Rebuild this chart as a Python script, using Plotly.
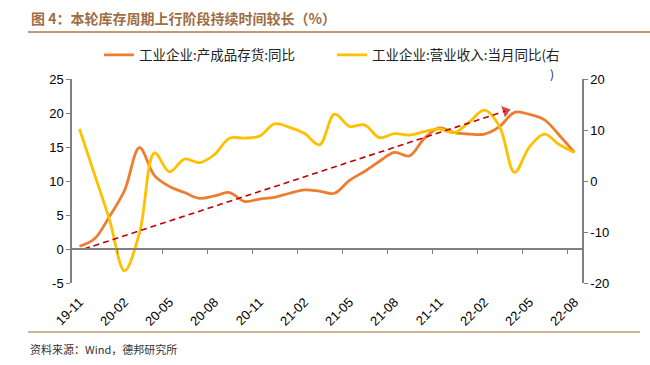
import plotly.graph_objects as go

# ---------------- data ----------------
months = ["19-11", "19-12", "20-01", "20-02", "20-03", "20-04", "20-05", "20-06",
          "20-07", "20-08", "20-09", "20-10", "20-11", "20-12", "21-01", "21-02",
          "21-03", "21-04", "21-05", "21-06", "21-07", "21-08", "21-09", "21-10",
          "21-11", "21-12", "22-01", "22-02", "22-03", "22-04", "22-05", "22-06",
          "22-07", "22-08"]

inventory_yoy = [0.4, 1.5, 4.8, 8.6, 14.9, 10.8, 9.2, 8.3, 7.45, 7.8, 8.3, 7.0,
                 7.35, 7.6, 8.2, 8.7, 8.5, 8.2, 10.1, 11.4, 12.9, 14.2, 13.7, 16.3,
                 17.8, 17.1, 16.9, 16.9, 18.0, 20.1, 19.8, 19.0, 16.7, 14.2]

revenue_yoy = [10.2, 1.3, -7.6, -17.6, -10.2, 5.5, 1.8, 4.3, 3.6, 5.2, 8.4, 8.4,
               8.8, 11.2, 10.5, 9.3, 7.1, 13.1, 10.7, 11.0, 8.5, 9.3, 9.0, 9.7,
               10.2, 9.5, 11.6, 13.9, 10.7, 1.7, 6.7, 9.2, 7.1, 5.6]

tick_idx = list(range(0, len(months), 3))
tick_labels = [months[i] for i in tick_idx]

left_ticks = [-5, 0, 5, 10, 15, 20, 25]
left_tick_text = ["-5", "0", "5", "10", "15", "20", "25"]
right_ticks = [-20, -10, 0, 10, 20]
right_tick_text = ["-20", "-10", "0", "10", "20"]

# trend arrow (data coordinates, left axis)
arrow_x = [0.3, 28.4]
arrow_y = [0.0, 20.3]

name_inv = "工业企业:产成品存货:同比"
name_rev = "工业企业:营业收入:当月同比(右"

# ---------------- layout geometry ----------------
W, H = 650, 365
L, R, T, B = 72, 68, 79, 82
PW, PH = W - L - R, H - T - B
Y_LEFT = [-5, 25]
Y_RIGHT = [-20, 20]
X_RANGE = [-0.5, len(months) - 0.5]


def px(x):
    return (x - L) / PW


def py(y):
    return (H - B - y) / PH


ORANGE = "#ED7D31"
YELLOW = "#FFC000"
RED = "#C00000"
GREY = "#808080"
BROWN = "#9E6D45"
TAN = "#C49A72"
CJK = "Noto Sans CJK SC"
LAT = "Liberation Sans, Arial"

x_idx = list(range(len(months)))

fig = go.Figure()
fig.add_trace(go.Scatter(
    x=x_idx, y=inventory_yoy, name=name_inv, mode="lines", legend="legend",
    line=dict(color=ORANGE, width=2.8, shape="spline", smoothing=1.0),
    yaxis="y", xaxis="x"))
fig.add_trace(go.Scatter(
    x=x_idx, y=revenue_yoy, name=name_rev, mode="lines", legend="legend2",
    line=dict(color=YELLOW, width=2.8, shape="spline", smoothing=1.0),
    yaxis="y2", xaxis="x"))
fig.add_trace(go.Scatter(
    x=arrow_x, y=arrow_y, mode="lines+markers", showlegend=False,
    line=dict(color=RED, width=1.6, dash="6px,4px"),
    marker=dict(symbol="triangle-up", size=[0, 12], color=RED, angleref="previous"),
    xaxis="x2", yaxis="y", hoverinfo="skip"))

boundaries = [i - 0.5 for i in range(3, len(months), 3)]
zero_pos = (0 - Y_LEFT[0]) / (Y_LEFT[1] - Y_LEFT[0])

axis_common = dict(showgrid=False, zeroline=False, showline=True,
                   linecolor=GREY, linewidth=1.5, ticks="outside",
                   ticklen=4, tickcolor=GREY, tickwidth=1.2,
                   tickfont=dict(family=LAT, size=13, color="#000000"))

legend_common = dict(orientation="h", xanchor="left", yanchor="middle",
                     font=dict(family=CJK, size=13.5, color="#222222"),
                     bgcolor="rgba(0,0,0,0)", itemwidth=30)

fig.update_layout(
    width=W, height=H,
    margin=dict(l=L, r=R, t=T, b=B, pad=0, autoexpand=False),
    paper_bgcolor="white", plot_bgcolor="white",
    showlegend=True,
    legend=dict(x=px(99), y=py(55), **legend_common),
    legend2=dict(x=px(332), y=py(55), **legend_common),
    xaxis=dict(range=X_RANGE, tickmode="array", tickvals=tick_idx, ticktext=tick_labels,
               tickangle=-45, showgrid=False, zeroline=False, showline=False, ticks="",
               automargin=False, ticklabelstandoff=8,
               tickfont=dict(family=LAT, size=13, color="#000000")),
    xaxis2=dict(range=X_RANGE, overlaying="x", anchor="free", position=zero_pos,
                tickmode="array", tickvals=boundaries, showticklabels=False,
                showgrid=False, zeroline=False, showline=True, linecolor=GREY,
                linewidth=1.5, ticks="outside", ticklen=4, tickcolor=GREY, tickwidth=1.2),
    yaxis=dict(range=Y_LEFT, tickmode="array", tickvals=left_ticks,
               ticktext=left_tick_text, automargin=False, **axis_common),
    yaxis2=dict(range=Y_RIGHT, tickmode="array", tickvals=right_ticks,
                ticktext=right_tick_text, overlaying="y", side="right",
                automargin=False, **axis_common),
)

# title, decorative rules and source
fig.add_annotation(text="<b>图 4：本轮库存周期上行阶段持续时间较长（%）</b>",
                   xref="paper", yref="paper", x=px(29), y=py(18),
                   xanchor="left", yanchor="middle", showarrow=False,
                   font=dict(family=CJK, size=14, color=BROWN))
fig.add_shape(type="line", xref="paper", yref="paper",
              x0=px(28), x1=px(650), y0=py(32), y1=py(32),
              line=dict(color=TAN, width=2))
fig.add_shape(type="line", xref="paper", yref="paper",
              x0=px(28), x1=px(640), y0=py(332), y1=py(332),
              line=dict(color=TAN, width=1.5))
fig.add_annotation(text="资料来源：Wind，德邦研究所",
                   xref="paper", yref="paper", x=px(28), y=py(349),
                   xanchor="left", yanchor="middle", showarrow=False,
                   font=dict(family=CJK, size=11, color="#333333"))
fig.add_annotation(text=")", xref="paper", yref="paper", x=px(552), y=py(73),
                   xanchor="center", yanchor="middle", showarrow=False,
                   font=dict(family=CJK, size=12, color="#222222"))

fig.write_html("out.html", config={"displayModeBar": False},
               post_script="document.body.style.margin='0';"
                           "document.documentElement.style.overflow='hidden';")
